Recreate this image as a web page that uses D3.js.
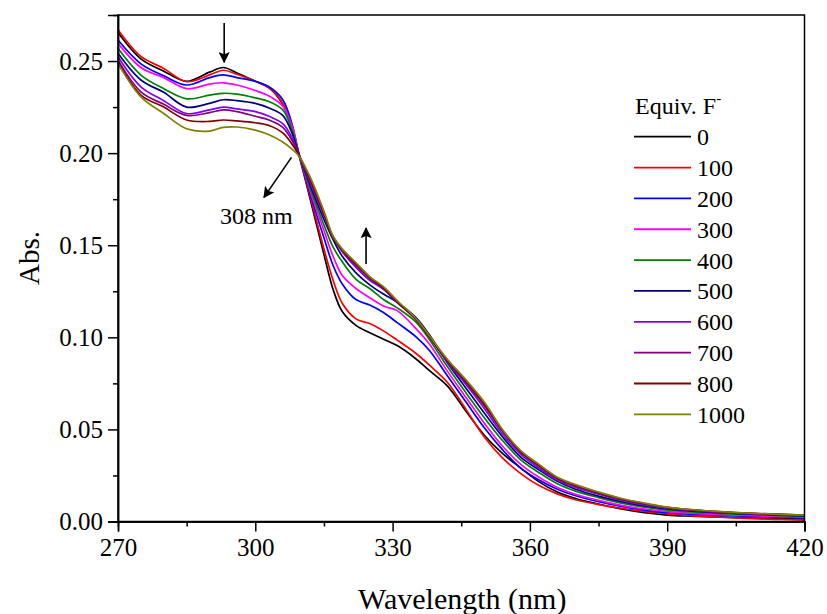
<!DOCTYPE html>
<html>
<head>
<meta charset="utf-8">
<script src="https://cdn.jsdelivr.net/npm/d3@7"></script>
<style>
  html, body { margin: 0; padding: 0; background: #fff; }
  svg text { font-family: "Liberation Serif", "Times New Roman", serif; fill: #000; }
</style>
</head>
<body>
<svg id="chart" width="827" height="614"></svg>
<script>
// Wavelength grid (nm)
const wavelengths = [270, 275, 280, 285, 290, 293, 296, 300, 303, 306, 308, 309.5, 312, 315, 317, 319, 322, 325, 328, 331, 335, 338, 342, 346, 350, 354, 358, 362, 366, 370, 375, 380, 385, 390, 395, 400, 405, 410, 415, 420];

// Equivalents of fluoride added
const equivLabels = ["0", "100", "200", "300", "400", "500", "600", "700", "800", "1000"];
const seriesColors = ["#000000", "#ff0000", "#0000ff", "#ff00ff", "#008000", "#000080", "#8000ff", "#800080", "#800000", "#808000"];

// Absorbance for each titration step
const abs0 = [.2655, .2512, .2445, .2390, .2440, .2465, .2435, .2390, .2355, .2265, .2130, .1995, .1750, .1450, .1260, .1140, .1065, .1025, .0990, .0955, .0885, .0820, .0735, .0600, .0470, .0370, .0290, .0215, .0160, .0125, .0095, .0068, .0048, .0035, .0029, .0025, .0021, .0018, .0015, .0013];
const abs100 = [.2670, .2525, .2460, .2388, .2425, .2450, .2428, .2390, .2355, .2270, .2135, .1995, .1765, .1480, .1310, .1185, .1100, .1075, .1035, .0985, .0915, .0850, .0755, .0610, .0460, .0345, .0260, .0195, .0150, .0118, .0092, .0072, .0055, .0042, .0032, .0025, .0019, .0014, .0011, .0008];
const abs200 = [.2614, .2485, .2420, .2370, .2410, .2425, .2410, .2390, .2360, .2290, .2160, .2000, .1780, .1540, .1390, .1290, .1205, .1175, .1135, .1080, .1005, .0930, .0790, .0650, .0510, .0390, .0290, .0225, .0175, .0140, .0108, .0082, .0062, .0048, .0040, .0034, .0030, .0026, .0023, .0020];
const abs300 = [.2596, .2465, .2410, .2350, .2375, .2382, .2370, .2340, .2310, .2255, .2150, .2000, .1795, .1580, .1440, .1335, .1265, .1215, .1170, .1145, .1050, .0965, .0815, .0675, .0535, .0410, .0310, .0240, .0185, .0148, .0115, .0088, .0068, .0054, .0045, .0039, .0034, .0030, .0027, .0024];
const abs400 = [.2569, .2424, .2350, .2295, .2315, .2325, .2320, .2300, .2280, .2235, .2130, .1995, .1810, .1610, .1490, .1410, .1315, .1265, .1205, .1160, .1085, .0990, .0840, .0700, .0565, .0440, .0335, .0265, .0205, .0165, .0130, .0100, .0078, .0062, .0052, .0045, .0040, .0036, .0032, .0029];
const abs500 = [.2542, .2397, .2330, .2250, .2270, .2290, .2285, .2270, .2245, .2205, .2110, .1995, .1825, .1640, .1530, .1440, .1350, .1285, .1235, .1190, .1110, .1015, .0860, .0725, .0590, .0460, .0350, .0280, .0218, .0175, .0138, .0108, .0085, .0068, .0058, .0050, .0044, .0039, .0035, .0031];
const abs600 = [.2523, .2360, .2285, .2215, .2235, .2250, .2240, .2225, .2200, .2160, .2085, .1990, .1840, .1660, .1545, .1465, .1380, .1310, .1260, .1190, .1100, .1005, .0865, .0745, .0615, .0475, .0365, .0290, .0225, .0185, .0148, .0115, .0090, .0072, .0061, .0052, .0046, .0041, .0037, .0033];
const abs700 = [.2505, .2333, .2265, .2205, .2220, .2235, .2225, .2200, .2180, .2140, .2070, .1990, .1850, .1665, .1540, .1470, .1390, .1320, .1265, .1190, .1100, .1005, .0870, .0755, .0630, .0490, .0375, .0300, .0232, .0192, .0153, .0120, .0095, .0075, .0063, .0054, .0047, .0042, .0038, .0034];
const abs800 = [.2496, .2315, .2250, .2180, .2172, .2180, .2175, .2165, .2150, .2110, .2050, .1990, .1860, .1675, .1545, .1475, .1400, .1325, .1270, .1195, .1100, .1005, .0875, .0765, .0640, .0495, .0380, .0305, .0238, .0197, .0157, .0123, .0098, .0077, .0064, .0055, .0048, .0043, .0039, .0034];
const abs1000 = [.2487, .2305, .2215, .2132, .2120, .2140, .2142, .2125, .2100, .2060, .2022, .1985, .1870, .1685, .1550, .1480, .1405, .1330, .1275, .1200, .1105, .1010, .0880, .0770, .0650, .0500, .0385, .0310, .0240, .0200, .0160, .0125, .0100, .0078, .0065, .0056, .0049, .0043, .0039, .0035];

const seriesValues = [abs0, abs100, abs200, abs300, abs400, abs500, abs600, abs700, abs800, abs1000];

// Axis ticks
const xMajorTicks = [270, 300, 330, 360, 390, 420];
const xMinorTicks = [285, 315, 345, 375, 405];
const yMajorTicks = [0, 0.05, 0.10, 0.15, 0.20, 0.25];
const yMinorTicks = [0.025, 0.075, 0.125, 0.175, 0.225];

const svg = d3.select("#chart");
const plot = { left: 118, right: 804.5, top: 15, bottom: 521.5 };

const x = d3.scaleLinear().domain([270, 420]).range([plot.left, plot.right]);
const y = d3.scaleLinear().domain([0, 0.275]).range([plot.bottom, plot.top]);

// Spectra
const line = d3.line()
  .x(d => x(d[0]))
  .y(d => y(d[1]))
  .curve(d3.curveCatmullRom.alpha(0.5));

const spectra = svg.append("g").attr("class", "spectra");
seriesValues.forEach((vals, i) => {
  spectra.append("path")
    .datum(wavelengths.map((w, j) => [w, vals[j]]))
    .attr("fill", "none")
    .attr("stroke", seriesColors[i])
    .attr("stroke-width", 1.7)
    .attr("stroke-linejoin", "round")
    .attr("d", line);
});

// Frame
svg.append("rect")
  .attr("x", plot.left).attr("y", plot.top)
  .attr("width", plot.right - plot.left).attr("height", plot.bottom - plot.top)
  .attr("fill", "none").attr("stroke", "#000").attr("stroke-width", 1.5);

// Axes
const xAxis = svg.append("g").attr("transform", `translate(0,${plot.bottom})`)
  .call(d3.axisBottom(x).tickValues(xMajorTicks).tickSize(10).tickPadding(5).tickFormat(d3.format("d")));
const xMinor = svg.append("g").attr("transform", `translate(0,${plot.bottom})`)
  .call(d3.axisBottom(x).tickValues(xMinorTicks).tickSize(5).tickFormat(""));
const yAxis = svg.append("g").attr("transform", `translate(${plot.left},0)`)
  .call(d3.axisLeft(y).tickValues(yMajorTicks).tickSize(10).tickPadding(5).tickFormat(d3.format(".2f")));
const yMinor = svg.append("g").attr("transform", `translate(${plot.left},0)`)
  .call(d3.axisLeft(y).tickValues(yMinorTicks).tickSize(5).tickFormat(""));

[xAxis, xMinor, yAxis, yMinor].forEach(g => {
  g.select(".domain").attr("stroke", "#000").attr("stroke-width", 1.5);
  g.selectAll(".tick line").attr("stroke", "#000").attr("stroke-width", 1.5);
  g.selectAll(".tick text")
    .style("font-family", "'Liberation Serif', 'Times New Roman', serif")
    .style("font-size", "25px").attr("fill", "#000");
});
xAxis.selectAll(".tick text").attr("dy", "0.78em");

// Axis titles
svg.append("text")
  .attr("x", (plot.left + plot.right) / 2 + 1)
  .attr("y", 609)
  .attr("text-anchor", "middle")
  .style("font-size", "30px")
  .text("Wavelength (nm)");

svg.append("text")
  .attr("transform", `translate(39,${258}) rotate(-90)`)
  .attr("text-anchor", "middle")
  .style("font-size", "29px")
  .text("Abs.");

// Annotation arrows
const defs = svg.append("defs");
defs.append("marker")
  .attr("id", "arrowhead")
  .attr("viewBox", "0 0 10 10")
  .attr("refX", 9).attr("refY", 5)
  .attr("markerWidth", 7).attr("markerHeight", 7)
  .attr("markerUnits", "strokeWidth")
  .attr("orient", "auto")
  .append("path")
  .attr("d", "M0,0 L10,5 L0,10 L2,5 Z")
  .attr("fill", "#000");

const arrows = [
  { from: [293.2, 0.2706], to: [293.2, 0.2494] },
  { from: [307.9, 0.1977], to: [301.9, 0.1760] },
  { from: [324.2, 0.1398], to: [324.2, 0.1593] }
];
arrows.forEach(a => {
  svg.append("line")
    .attr("x1", x(a.from[0])).attr("y1", y(a.from[1]))
    .attr("x2", x(a.to[0])).attr("y2", y(a.to[1]))
    .attr("stroke", "#000").attr("stroke-width", 1.6)
    .attr("marker-end", "url(#arrowhead)");
});

svg.append("text")
  .attr("x", x(292.3)).attr("y", y(0.1615))
  .style("font-size", "24px")
  .text("308 nm");

// Legend
const legend = svg.append("g").attr("transform", "translate(634,0)");
const legendTitle = legend.append("text")
  .attr("x", 1).attr("y", 114)
  .style("font-size", "24px");
legendTitle.append("tspan").text("Equiv. F");
legendTitle.append("tspan").attr("dy", -11).style("font-size", "15px").text("-");

equivLabels.forEach((lab, i) => {
  const ly = 136.7 + i * 30.85;
  legend.append("line")
    .attr("x1", 0).attr("x2", 57)
    .attr("y1", ly).attr("y2", ly)
    .attr("stroke", seriesColors[i]).attr("stroke-width", 1.8);
  legend.append("text")
    .attr("x", 63).attr("y", ly + 8.5)
    .style("font-size", "24px")
    .text(lab);
});
</script>
</body>
</html>
